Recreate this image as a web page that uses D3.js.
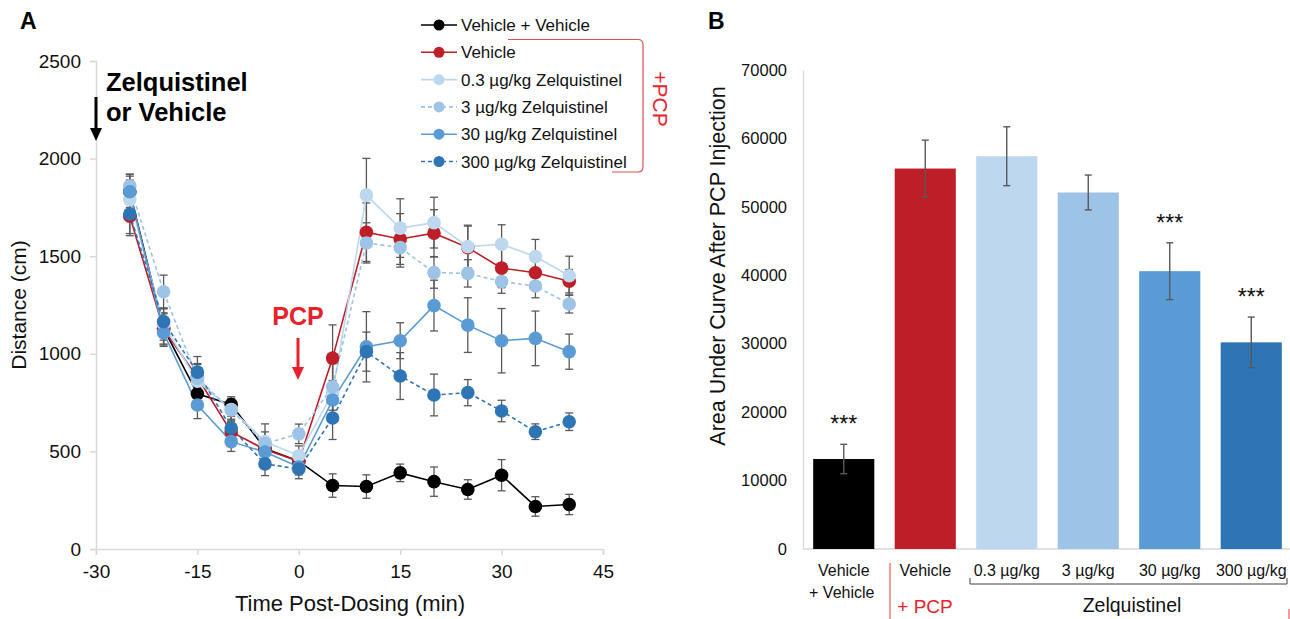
<!DOCTYPE html>
<html><head><meta charset="utf-8">
<script src="https://cdn.jsdelivr.net/npm/d3@7"></script>
<style>body{margin:0;background:#fff}svg{display:block}text{font-family:"Liberation Sans",Arial,sans-serif}</style>
</head><body>
<script>
// ---------- Panel A data ----------
const times = [-25,-20,-15,-10,-5,0,5,10,15,20,25,30,35,40];
const seriesNames = ["Vehicle + Vehicle","Vehicle","0.3 µg/kg Zelquistinel","3 µg/kg Zelquistinel","30 µg/kg Zelquistinel","300 µg/kg Zelquistinel"];
const seriesColors = ["#000000","#be1e27","#bdd7ee","#9dc3e6","#5b9bd5","#2e75b6"];
const seriesDashed = [false,false,false,true,false,true];
const vehVeh    = [1830,1130,795,740,515,450,325,320,390,345,305,378,218,228];
const vehVehErr = [90,80,60,40,60,40,60,60,45,75,50,80,50,52];
const veh       = [1705,1125,880,600,510,450,978,1623,1588,1618,1544,1439,1415,1372];
const vehErr    = [100,80,70,60,60,40,170,150,130,120,110,100,90,60];
const z03       = [1790,1150,860,715,551,478,800,1813,1644,1672,1549,1561,1498,1400];
const z03Err    = [100,80,70,50,90,50,150,188,150,130,110,100,88,100];
const z3        = [1860,1318,875,712,540,590,831,1568,1544,1416,1412,1370,1347,1255];
const z3Err     = [60,85,70,60,60,50,120,103,100,80,70,60,60,46];
const z30       = [1830,1108,738,550,497,420,763,1036,1067,1247,1147,1067,1079,1011];
const z30Err    = [80,70,70,50,50,40,100,180,92,130,140,165,140,90];
const z300      = [1716,1165,906,620,436,410,671,1011,886,789,801,707,601,652];
const z300Err   = [100,70,80,60,60,50,110,100,120,107,67,55,40,45];
const seriesVals = [vehVeh,veh,z03,z3,z30,z300];
const seriesErrs = [vehVehErr,vehErr,z03Err,z3Err,z30Err,z300Err];
const xTicksA = [-30,-15,0,15,30,45];
const yTicksA = [0,500,1000,1500,2000,2500];

// ---------- Panel B data ----------
const aucCats = ["Vehicle + Vehicle","Vehicle","0.3 µg/kg","3 µg/kg","30 µg/kg","300 µg/kg"];
const aucVals = [13150,55600,57400,52100,40600,30200];
const aucErr  = [2150,4150,4300,2550,4150,3700];
const aucSig  = ["***","","","","***","***"];
const yTicksB = [0,10000,20000,30000,40000,50000,60000,70000];

const F = '"Liberation Sans",Arial,sans-serif';
const svg = d3.select("body").append("svg").attr("width",1290).attr("height",619);
const grid = "#d9d9d9", errC = "#595959", pcpRed = "#e8212b";
const plain = d => String(d);

// ================= Panel A =================
const xA = d3.scaleLinear().domain([-30,45]).range([96,603]);
const yA = d3.scaleLinear().domain([0,2500]).range([549,61]);

const gA = svg.append("g");
const ay = gA.append("g").attr("transform","translate(96,0)")
  .call(d3.axisLeft(yA).tickValues(yTicksA).tickSize(6).tickPadding(9).tickFormat(plain));
const ax = gA.append("g").attr("transform","translate(0,549)")
  .call(d3.axisBottom(xA).tickValues(xTicksA).tickSize(6).tickPadding(10).tickFormat(plain));
[ay,ax].forEach(a=>{
  a.selectAll("path.domain").attr("stroke",grid).attr("stroke-width",1.5);
  a.selectAll(".tick line").attr("stroke",grid).attr("stroke-width",1.5);
  a.selectAll("text").attr("font-family",F).attr("font-size",19).attr("fill","#111");
});

// error bars
seriesVals.forEach((vals,si)=>{
  const g = gA.append("g").attr("stroke",errC).attr("stroke-width",1.3);
  vals.forEach((v,i)=>{
    const e = seriesErrs[si][i], x = xA(times[i]);
    g.append("line").attr("x1",x).attr("x2",x).attr("y1",yA(v-e)).attr("y2",yA(v+e));
    g.append("line").attr("x1",x-4).attr("x2",x+4).attr("y1",yA(v-e)).attr("y2",yA(v-e));
    g.append("line").attr("x1",x-4).attr("x2",x+4).attr("y1",yA(v+e)).attr("y2",yA(v+e));
  });
});
// lines
const lineGen = d3.line().x((d,i)=>xA(times[i])).y(d=>yA(d));
seriesVals.forEach((vals,si)=>{
  gA.append("path").datum(vals).attr("d",lineGen).attr("fill","none")
    .attr("stroke",seriesColors[si]).attr("stroke-width",1.6)
    .attr("stroke-dasharray",seriesDashed[si]?"4,3":null);
});
// markers
seriesVals.forEach((vals,si)=>{
  gA.append("g").selectAll("circle").data(vals).join("circle")
    .attr("cx",(d,i)=>xA(times[i])).attr("cy",d=>yA(d)).attr("r",6.8)
    .attr("fill",seriesColors[si]);
});

// titles
svg.append("text").attr("x",20).attr("y",29).attr("font-size",23).attr("font-weight","bold").text("A");
svg.append("text").attr("x",350).attr("y",611).attr("text-anchor","middle").attr("font-size",22).attr("fill","#111").text("Time Post-Dosing (min)");
svg.append("text").attr("transform","translate(26,305) rotate(-90)").attr("text-anchor","middle").attr("font-size",21).attr("fill","#111").text("Distance (cm)");

// annotations
svg.append("text").attr("x",106).attr("y",91).attr("font-size",25.5).attr("font-weight","bold").text("Zelquistinel");
svg.append("text").attr("x",106).attr("y",121).attr("font-size",25.5).attr("font-weight","bold").text("or Vehicle");
svg.append("line").attr("x1",96).attr("x2",96).attr("y1",97).attr("y2",130).attr("stroke","#000").attr("stroke-width",3);
svg.append("path").attr("d","M90,128 L102,128 L96,141 Z").attr("fill","#000");
svg.append("text").attr("x",298).attr("y",325).attr("text-anchor","middle").attr("font-size",25).attr("font-weight","bold").attr("fill",pcpRed).text("PCP");
svg.append("line").attr("x1",298).attr("x2",298).attr("y1",338).attr("y2",369).attr("stroke",pcpRed).attr("stroke-width",3);
svg.append("path").attr("d","M292,367 L304,367 L298,380 Z").attr("fill",pcpRed);

// legend
const legY0 = 25, legStep = 27.3;
seriesNames.forEach((n,i)=>{
  const y = legY0 + i*legStep;
  svg.append("line").attr("x1",421).attr("x2",457).attr("y1",y).attr("y2",y)
    .attr("stroke",seriesColors[i]).attr("stroke-width",1.6).attr("stroke-dasharray",seriesDashed[i]?"4,3":null);
  svg.append("circle").attr("cx",439).attr("cy",y).attr("r",5.5).attr("fill",seriesColors[i]);
  svg.append("text").attr("x",461).attr("y",y+6).attr("font-size",17).attr("fill","#111").text(n);
});
svg.append("path").attr("d","M508,39.5 H638 Q643,39.5 643,44.5 V167 Q643,172 638,172 H612")
  .attr("fill","none").attr("stroke","#d9534f").attr("stroke-width",1.2);
svg.append("text").attr("transform","translate(653,99) rotate(90)").attr("text-anchor","middle")
  .attr("font-size",21).attr("fill",pcpRed).text("+PCP");

// ================= Panel B =================
const xB = d3.scaleBand().domain(aucCats).range([803,1292]).paddingInner(0.25).paddingOuter(0.125);
const yB = d3.scaleLinear().domain([0,70000]).range([549,70]);
const gB = svg.append("g");
const by = gB.append("g").attr("transform","translate(803,0)")
  .call(d3.axisLeft(yB).tickValues(yTicksB).tickSize(0).tickPadding(16).tickFormat(plain));
by.selectAll("path.domain").attr("stroke",grid).attr("stroke-width",1.2);
by.selectAll("text").attr("font-family",F).attr("font-size",16.5).attr("fill","#111");
gB.append("line").attr("x1",803).attr("x2",1290).attr("y1",549).attr("y2",549).attr("stroke",grid).attr("stroke-width",1.5);

gB.selectAll("rect.bar").data(aucVals).join("rect").attr("class","bar")
  .attr("x",(d,i)=>xB(aucCats[i])).attr("width",xB.bandwidth())
  .attr("y",d=>yB(d)).attr("height",d=>yB(0)-yB(d))
  .attr("fill",(d,i)=>seriesColors[i]);
const eg = gB.append("g").attr("stroke",errC).attr("stroke-width",1.4);
aucVals.forEach((v,i)=>{
  const x = xB(aucCats[i]) + xB.bandwidth()/2, e = aucErr[i];
  eg.append("line").attr("x1",x).attr("x2",x).attr("y1",yB(v-e)).attr("y2",yB(v+e));
  eg.append("line").attr("x1",x-3.5).attr("x2",x+3.5).attr("y1",yB(v-e)).attr("y2",yB(v-e));
  eg.append("line").attr("x1",x-3.5).attr("x2",x+3.5).attr("y1",yB(v+e)).attr("y2",yB(v+e));
  if (aucSig[i]) gB.append("text").attr("x",x).attr("y",yB(v+e)-12).attr("text-anchor","middle")
    .attr("font-size",23).attr("fill","#111").text(aucSig[i]);
});

svg.append("text").attr("x",708).attr("y",29).attr("font-size",23).attr("font-weight","bold").text("B");
svg.append("text").attr("transform","translate(725,266) rotate(-90)").attr("text-anchor","middle")
  .attr("font-size",21.5).attr("fill","#111").text("Area Under Curve After PCP Injection");

// category labels
const cx = i => xB(aucCats[i]) + xB.bandwidth()/2;
svg.append("text").attr("x",cx(0)).attr("y",576).attr("text-anchor","middle").attr("font-size",16).attr("fill","#111").text("Vehicle");
svg.append("text").attr("x",cx(0)-2).attr("y",598).attr("text-anchor","middle").attr("font-size",16).attr("fill","#111").text("+ Vehicle");
for (let i=1;i<6;i++){
  const lab = i===1 ? "Vehicle" : aucCats[i];
  svg.append("text").attr("x",cx(i)).attr("y",576).attr("text-anchor","middle").attr("font-size",16).attr("fill","#111").text(lab);
}
svg.append("text").attr("x",925).attr("y",613).attr("text-anchor","middle").attr("font-size",19).attr("fill",pcpRed).text("+ PCP");
svg.append("line").attr("x1",890).attr("x2",890).attr("y1",563).attr("y2",619).attr("stroke","#e35b5b").attr("stroke-width",1.2);
svg.append("line").attr("x1",1289).attr("x2",1289).attr("y1",609).attr("y2",619).attr("stroke","#e35b5b").attr("stroke-width",1.2);
svg.append("path").attr("d","M970,578 V584 H1287 V578").attr("fill","none").attr("stroke","#404040").attr("stroke-width",1);
svg.append("text").attr("x",1132).attr("y",612).attr("text-anchor","middle").attr("font-size",19.5).attr("fill","#111").text("Zelquistinel");
</script>
</body></html>
